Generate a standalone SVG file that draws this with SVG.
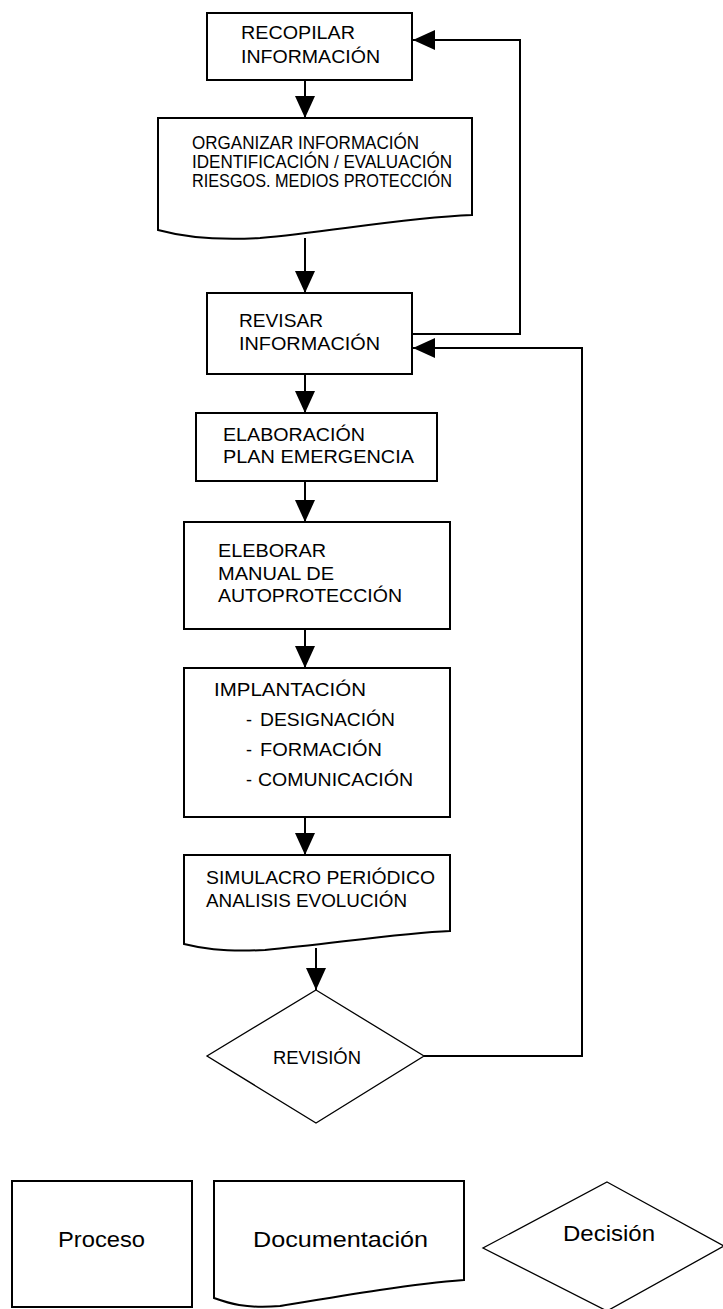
<svg xmlns="http://www.w3.org/2000/svg" width="723" height="1309" viewBox="0 0 723 1309">
<style>
.box{fill:#fff;stroke:#000;stroke-width:2}
.dia{fill:#fff;stroke:#000;stroke-width:1.3}
.con{fill:none;stroke:#000;stroke-width:2}
.t{font-family:"Liberation Sans",Arial,sans-serif;font-size:18px;fill:#000}
.s{font-size:17.5px}
.l{font-family:"Liberation Sans",Arial,sans-serif;font-size:22px;fill:#000}
</style>
<defs>
<marker id="ah" markerUnits="userSpaceOnUse" markerWidth="22" markerHeight="20" refX="22" refY="10" orient="auto">
<path d="M0,0 L22,10 L0,20 Z" fill="#000"/>
</marker>
</defs>
<rect width="723" height="1309" fill="#fff"/>
<g id="connectors">
<line class="con" x1="305" y1="80" x2="305" y2="118" marker-end="url(#ah)"/>
<line class="con" x1="305" y1="238" x2="305" y2="293" marker-end="url(#ah)"/>
<polyline class="con" points="412,334 520,334 520,40 413,40" marker-end="url(#ah)"/>
<line class="con" x1="305" y1="374" x2="305" y2="413" marker-end="url(#ah)"/>
<line class="con" x1="305" y1="481" x2="305" y2="522" marker-end="url(#ah)"/>
<line class="con" x1="305" y1="629" x2="305" y2="668" marker-end="url(#ah)"/>
<line class="con" x1="305" y1="817" x2="305" y2="855" marker-end="url(#ah)"/>
<line class="con" x1="316" y1="948" x2="316" y2="990" marker-end="url(#ah)"/>
<polyline class="con" points="424,1056 582,1056 582,348 413,348" marker-end="url(#ah)"/>
</g>
<g id="recopilar">
<rect class="box" x="207" y="13" width="205" height="67"/>
<text class="t" x="241" y="39" textLength="114" lengthAdjust="spacingAndGlyphs">RECOPILAR</text>
<text class="t" x="241" y="63" textLength="139" lengthAdjust="spacingAndGlyphs">INFORMACIÓN</text>
</g>
<g id="organizar">
<path class="box" d="M158,118 H472 V215 C400,218 330,232 260,238 C210,241 180,236 158,230 Z"/>
<text class="t s" x="192" y="149" textLength="227" lengthAdjust="spacingAndGlyphs">ORGANIZAR INFORMACIÓN</text>
<text class="t s" x="192" y="168" textLength="260" lengthAdjust="spacingAndGlyphs">IDENTIFICACIÓN / EVALUACIÓN</text>
<text class="t s" x="192" y="187" textLength="260" lengthAdjust="spacingAndGlyphs">RIESGOS. MEDIOS PROTECCIÓN</text>
</g>
<g id="revisar">
<rect class="box" x="207" y="293" width="205" height="81"/>
<text class="t" x="239" y="327" textLength="84" lengthAdjust="spacingAndGlyphs">REVISAR</text>
<text class="t" x="239" y="350" textLength="141" lengthAdjust="spacingAndGlyphs">INFORMACIÓN</text>
</g>
<g id="elaboracion">
<rect class="box" x="196" y="413" width="241" height="68"/>
<text class="t" x="223" y="441" textLength="142" lengthAdjust="spacingAndGlyphs">ELABORACIÓN</text>
<text class="t" x="223" y="463" textLength="191" lengthAdjust="spacingAndGlyphs">PLAN EMERGENCIA</text>
</g>
<g id="eleborar">
<rect class="box" x="184" y="522" width="266" height="107"/>
<text class="t" x="218" y="557" textLength="108" lengthAdjust="spacingAndGlyphs">ELEBORAR</text>
<text class="t" x="218" y="580" textLength="116" lengthAdjust="spacingAndGlyphs">MANUAL DE</text>
<text class="t" x="218" y="602" textLength="184" lengthAdjust="spacingAndGlyphs">AUTOPROTECCIÓN</text>
</g>
<g id="implantacion">
<rect class="box" x="184" y="668" width="266" height="149"/>
<text class="t" x="214" y="696" textLength="152" lengthAdjust="spacingAndGlyphs">IMPLANTACIÓN</text>
<text class="t" x="246" y="726">-</text>
<text class="t" x="260" y="726" textLength="135" lengthAdjust="spacingAndGlyphs">DESIGNACIÓN</text>
<text class="t" x="246" y="756">-</text>
<text class="t" x="260" y="756" textLength="122" lengthAdjust="spacingAndGlyphs">FORMACIÓN</text>
<text class="t" x="246" y="786">-</text>
<text class="t" x="258" y="786" textLength="155" lengthAdjust="spacingAndGlyphs">COMUNICACIÓN</text>
</g>
<g id="simulacro">
<path class="box" d="M184,855 H450 V931 C400,933 330,944 265,950 C220,952 200,948 184,944 Z"/>
<text class="t" x="206" y="884" textLength="229" lengthAdjust="spacingAndGlyphs">SIMULACRO PERIÓDICO</text>
<text class="t" x="206" y="907" textLength="201" lengthAdjust="spacingAndGlyphs">ANALISIS EVOLUCIÓN</text>
</g>
<g id="revision">
<polygon class="dia" points="316,990 424,1056 316,1123 207,1056"/>
<text class="t" x="273" y="1064" textLength="88" lengthAdjust="spacingAndGlyphs">REVISIÓN</text>
</g>
<g id="legend-proceso">
<rect class="box" x="12" y="1181" width="180" height="126"/>
<text class="l" x="58" y="1247" textLength="87" lengthAdjust="spacingAndGlyphs">Proceso</text>
</g>
<g id="legend-documentacion">
<path class="box" d="M214,1181 H464 V1280 C410,1284 340,1296 280,1306 C245,1309 228,1303 214,1298 Z"/>
<text class="l" x="253" y="1247" textLength="175" lengthAdjust="spacingAndGlyphs">Documentación</text>
</g>
<g id="legend-decision">
<polygon class="dia" points="607,1182 724,1246 607,1311 483,1248"/>
<text class="l" x="563" y="1241" textLength="92" lengthAdjust="spacingAndGlyphs">Decisión</text>
</g>
</svg>
